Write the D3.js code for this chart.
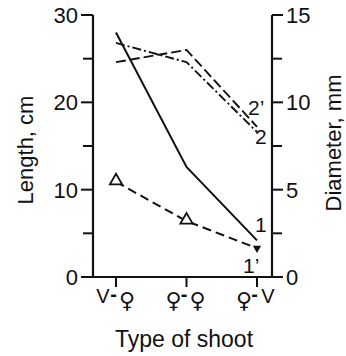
<!DOCTYPE html>
<html>
<head>
<meta charset="utf-8">
<script src="https://cdn.jsdelivr.net/npm/d3@7"></script>
<style>
  html, body { margin: 0; padding: 0; background: #fff; }
  svg { display: block; }
  text { font-family: "Liberation Sans", Arial, sans-serif; fill: #111; }
</style>
</head>
<body>
<svg id="chart" width="346" height="356"></svg>
<script>
// values
const categories = ["V-♀", "♀-♀", "♀-V"];
const lengthShoot = [28, 12.6, 4.2];    // curve 1 (solid, left axis)
const lengthInter = [10.9, 6.4, 3.3];   // curve 1' (dashed, triangles)
const diamLower = [13.4, 12.3, 8.3];    // curve 2 (dash-dot, right axis)
const diamUpper = [12.3, 13.0, 8.6];    // curve 2' (dashed, right axis)
const lengthTicks = [0, 10, 20, 30];
const lengthMinor = [5, 15, 25];
const diamTicks = [0, 5, 10, 15];
const diamMinor = [2.5, 7.5, 12.5];

const svg = d3.select("#chart");
const ink = "#111";

const mLeft = 93, mRight = 272, mTop = 15, mBottom = 277;

const x = d3.scalePoint().domain(categories).range([116, 257]);
const yLen = d3.scaleLinear().domain([0, 30]).range([mBottom, mTop]);
const yDia = d3.scaleLinear().domain([0, 15]).range([mBottom, mTop]);

// frame: left, bottom, right
svg.append("path")
  .attr("d", `M${mLeft},${mTop}V${mBottom}H${mRight}V${mTop}`)
  .attr("fill", "none")
  .attr("stroke", ink)
  .attr("stroke-width", 2.2);

// left axis ticks
const gl = svg.append("g").attr("transform", `translate(${mLeft},0)`);
gl.selectAll(".maj").data(lengthTicks).join("line")
  .attr("class", "maj")
  .attr("x1", -12).attr("x2", 0)
  .attr("y1", d => yLen(d)).attr("y2", d => yLen(d))
  .attr("stroke", ink).attr("stroke-width", 2);
gl.selectAll(".min").data(lengthMinor).join("line")
  .attr("class", "min")
  .attr("x1", -10).attr("x2", 0)
  .attr("y1", d => yLen(d)).attr("y2", d => yLen(d))
  .attr("stroke", ink).attr("stroke-width", 2);
gl.selectAll("text").data(lengthTicks).join("text")
  .attr("x", -15).attr("y", d => yLen(d) + 8)
  .attr("text-anchor", "end")
  .attr("font-size", 22)
  .text(d => d);

// right axis ticks
const gr = svg.append("g").attr("transform", `translate(${mRight},0)`);
gr.selectAll(".maj").data(diamTicks).join("line")
  .attr("class", "maj")
  .attr("x1", 0).attr("x2", 11)
  .attr("y1", d => yDia(d)).attr("y2", d => yDia(d))
  .attr("stroke", ink).attr("stroke-width", 2);
gr.selectAll(".min").data(diamMinor).join("line")
  .attr("class", "min")
  .attr("x1", 0).attr("x2", 10)
  .attr("y1", d => yDia(d)).attr("y2", d => yDia(d))
  .attr("stroke", ink).attr("stroke-width", 2);
gr.selectAll("text").data(diamTicks).join("text")
  .attr("x", 14).attr("y", d => yDia(d) + 8)
  .attr("text-anchor", "start")
  .attr("font-size", 22)
  .text(d => d);

// bottom ticks and category labels (each glyph placed on its own)
const gb = svg.append("g").attr("transform", `translate(0,${mBottom})`);
gb.selectAll("line").data(categories).join("line")
  .attr("x1", d => x(d)).attr("x2", d => x(d))
  .attr("y1", 0).attr("y2", 10)
  .attr("stroke", ink).attr("stroke-width", 2);
const charOffset = [-13, -2.5, 11];
gb.selectAll("text").data(categories).join("text")
  .attr("font-size", 20)
  .each(function(d) {
    const t = d3.select(this);
    d.split("").forEach((ch, i) => {
      const s = t.append("tspan")
        .attr("x", x(d) + charOffset[i])
        .attr("text-anchor", "middle")
        .text(ch);
      if (ch === "♀") {
        s.attr("font-family", "DejaVu Sans").attr("font-size", 22).attr("y", 31);
      } else if (ch === "-") {
        s.attr("y", 24).attr("font-weight", "bold");
      } else {
        s.attr("y", 26);
      }
    });
  });

// axis titles
svg.append("text")
  .attr("x", 184).attr("y", 347)
  .attr("text-anchor", "middle")
  .attr("font-size", 23)
  .text("Type of shoot");
svg.append("text")
  .attr("transform", `translate(33,150) rotate(-90)`)
  .attr("text-anchor", "middle")
  .attr("font-size", 22)
  .text("Length, cm");
svg.append("text")
  .attr("transform", `translate(341,143) rotate(-90)`)
  .attr("text-anchor", "middle")
  .attr("font-size", 22)
  .text("Diameter, mm");

// curves
const lineLen = d3.line().x((d, i) => x(categories[i])).y(d => yLen(d));
const lineDia = d3.line().x((d, i) => x(categories[i])).y(d => yDia(d));

svg.append("path").datum(lengthShoot)
  .attr("d", lineLen)
  .attr("fill", "none").attr("stroke", ink).attr("stroke-width", 2);

svg.append("path").datum(lengthInter)
  .attr("d", lineLen)
  .attr("fill", "none").attr("stroke", ink).attr("stroke-width", 2)
  .attr("stroke-dasharray", "9,5");

svg.append("path").datum(diamLower)
  .attr("d", lineDia)
  .attr("fill", "none").attr("stroke", ink).attr("stroke-width", 1.9)
  .attr("stroke-dasharray", "9,3,2,3");

svg.append("path").datum(diamUpper)
  .attr("d", lineDia)
  .attr("fill", "none").attr("stroke", ink).attr("stroke-width", 1.9)
  .attr("stroke-dasharray", "10,4");

// triangle markers on curve 1'
const tri = d3.symbol().type(d3.symbolTriangle);
svg.selectAll(".tri").data(lengthInter.slice(0, 2)).join("path")
  .attr("class", "tri")
  .attr("transform", (d, i) => `translate(${x(categories[i])},${yLen(d) - 1})`)
  .attr("d", tri.size(65)())
  .attr("fill", "#fff").attr("stroke", ink).attr("stroke-width", 1.8);
svg.append("path")
  .attr("transform", `translate(${x(categories[2])},${yLen(lengthInter[2])}) rotate(180)`)
  .attr("d", tri.size(30)())
  .attr("fill", ink);

// curve labels
const lab = [
  { t: "1", cx: 2, v: yLen(lengthShoot[2]), dx: -2, dy: -8 },
  { t: "1\u2019", cx: 2, v: yLen(lengthInter[2]), dx: -14, dy: 25 },
  { t: "2\u2019", cx: 2, v: yDia(diamUpper[2]), dx: -9, dy: -12 },
  { t: "2", cx: 2, v: yDia(diamLower[2]), dx: -2, dy: 12 }
];
svg.selectAll(".lab").data(lab).join("text")
  .attr("class", "lab")
  .attr("x", d => x(categories[d.cx]) + d.dx)
  .attr("y", d => d.v + d.dy)
  .attr("font-size", 21)
  .text(d => d.t);
</script>
</body>
</html>
